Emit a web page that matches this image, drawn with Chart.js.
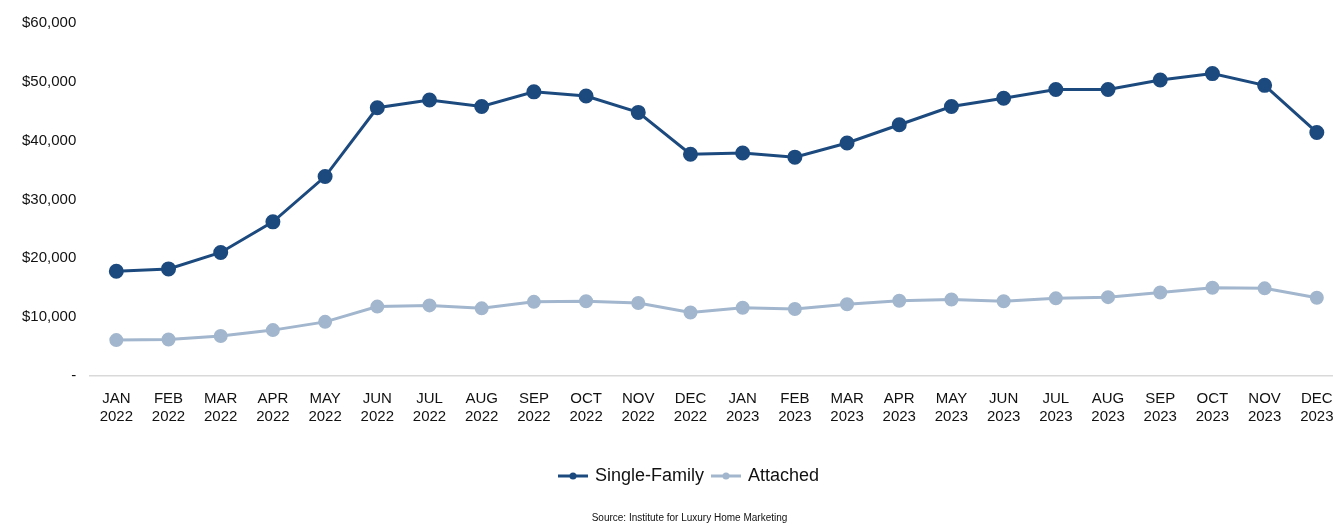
<!DOCTYPE html>
<html>
<head>
<meta charset="utf-8">
<script src="https://cdn.jsdelivr.net/npm/chart.js@4/dist/chart.umd.min.js"></script>
<style>
  html, body { margin: 0; padding: 0; background: #fff; }
  #wrap { width: 1333px; height: 524px; }
</style>
</head>
<body>
<div id="wrap"><canvas id="chart"></canvas></div>
<script>
// Data
const months = ['JAN 2022', 'FEB 2022', 'MAR 2022', 'APR 2022', 'MAY 2022', 'JUN 2022',
  'JUL 2022', 'AUG 2022', 'SEP 2022', 'OCT 2022', 'NOV 2022', 'DEC 2022',
  'JAN 2023', 'FEB 2023', 'MAR 2023', 'APR 2023', 'MAY 2023', 'JUN 2023',
  'JUL 2023', 'AUG 2023', 'SEP 2023', 'OCT 2023', 'NOV 2023', 'DEC 2023'];

const singleFamily = [17800, 18200, 21000, 26200, 33900, 45600, 46900, 45800, 48300, 47600, 44800, 37700,
  37900, 37200, 39600, 42700, 45800, 47200, 48700, 48700, 50300, 51400, 49400, 41400];

const attached = [6100, 6200, 6800, 7800, 9200, 11800, 12000, 11500, 12600, 12700, 12400, 10800,
  11600, 11400, 12200, 12800, 13000, 12700, 13200, 13400, 14200, 15000, 14900, 13300];

const yTicks = [0, 10000, 20000, 30000, 40000, 50000, 60000];

const navy = '#1c4a7f';
const lightBlue = '#a2b6cd';

// little line-with-dot swatch for the legend
function swatch(color) {
  const c = document.createElement('canvas');
  c.width = 30; c.height = 10;
  const g = c.getContext('2d');
  g.strokeStyle = color;
  g.lineWidth = 3;
  g.beginPath();
  g.moveTo(0, 5);
  g.lineTo(30, 5);
  g.stroke();
  g.fillStyle = color;
  g.beginPath();
  g.arc(15, 5, 3.5, 0, Math.PI * 2);
  g.fill();
  return c;
}

// legend and source line sit a bit right of the canvas centre in the original
const shiftBottom = {
  id: 'shiftBottom',
  afterLayout(chart) {
    if (chart.legend) chart.legend.left += 30;
    if (chart.titleBlock) chart.titleBlock.left += 30;
  }
};

const toPoints = arr => arr.map((v, i) => ({ x: i, y: v }));

const ctx = document.getElementById('chart').getContext('2d');
new Chart(ctx, {
  type: 'line',
  data: {
    datasets: [
      {
        label: 'Single-Family',
        data: toPoints(singleFamily),
        borderColor: navy,
        backgroundColor: navy,
        borderWidth: 3,
        pointRadius: 6,
        pointHoverRadius: 6
      },
      {
        label: 'Attached',
        data: toPoints(attached),
        borderColor: lightBlue,
        backgroundColor: lightBlue,
        borderWidth: 3,
        pointRadius: 5.5,
        pointHoverRadius: 5.5
      }
    ]
  },
  plugins: [shiftBottom],
  options: {
    responsive: true,
    maintainAspectRatio: false,
    animation: false,
    layout: { autoPadding: false, padding: { left: 16, right: 0, top: 23, bottom: 0 } },
    elements: {
      point: { pointStyle: 'circle', borderWidth: 0 },
      line: { tension: 0 }
    },
    scales: {
      x: {
        type: 'linear',
        min: -0.5,
        max: 23.31,
        grid: { display: false },
        border: { display: true, color: '#d9d9d9', width: 1.5 },
        afterBuildTicks: axis => { axis.ticks = months.map((_, i) => ({ value: i })); },
        afterFit: axis => {
          axis.height += 26;
          // let the plot run to the right edge like the original
          axis.paddingRight = 0;
        },
        ticks: {
          autoSkip: false,
          maxRotation: 0,
          padding: 6,
          color: '#111',
          font: { family: 'Liberation Sans, Arial, sans-serif', size: 15 },
          callback: v => months[v] ? months[v].split(' ') : ''
        }
      },
      y: {
        min: 0,
        max: 60000,
        grid: { display: false },
        border: { display: false },
        afterBuildTicks: axis => { axis.ticks = yTicks.map(v => ({ value: v })); },
        ticks: {
          padding: 6,
          color: '#111',
          font: { family: 'Liberation Sans, Arial, sans-serif', size: 15 },
          callback: v => v === 0 ? '-' : '$' + v.toLocaleString('en-US')
        }
      }
    },
    plugins: {
      legend: {
        position: 'bottom',
        labels: {
          usePointStyle: true,
          pointStyleWidth: 26,
          padding: 9,
          color: '#111',
          font: { family: 'Liberation Sans, Arial, sans-serif', size: 18 },
          generateLabels: chart => chart.data.datasets.map((ds, i) => ({
            text: ds.label,
            fillStyle: ds.borderColor,
            strokeStyle: ds.borderColor,
            lineWidth: 0,
            pointStyle: swatch(ds.borderColor),
            datasetIndex: i,
            fontColor: '#111'
          }))
        }
      },
      title: {
        display: true,
        position: 'bottom',
        text: 'Source: Institute for Luxury Home Marketing',
        color: '#111',
        font: { family: 'Liberation Sans, Arial, sans-serif', size: 10, weight: 'normal' },
        padding: { top: 17, bottom: 0 }
      },
      tooltip: { enabled: false }
    }
  }
});
</script>
</body>
</html>
